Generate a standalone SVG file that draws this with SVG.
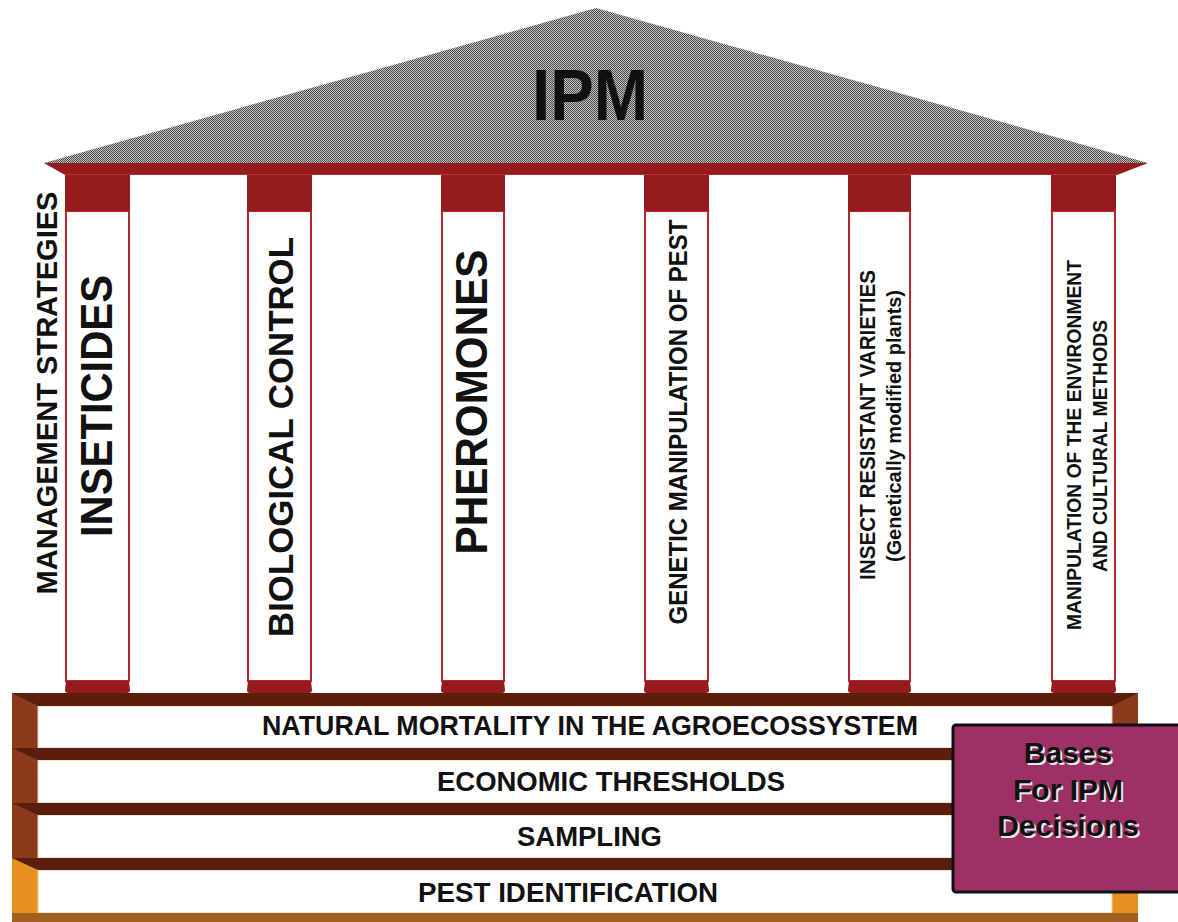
<svg xmlns="http://www.w3.org/2000/svg" width="1178" height="922" viewBox="0 0 1178 922">
<style>
text{font-family:"Liberation Sans",Arial,Helvetica,sans-serif;font-weight:bold;fill:#111}
.cap{fill:#961b1e}
.shaft{fill:#fff;stroke:#b8262b;stroke-width:2}
.beam{fill:#5b1e0c}
.face{fill:#8b3a1c}
.faceo{fill:#e5901f}
.row{fill:#fff;stroke:#e8cda8;stroke-width:1}
.shadow{fill:#e8e8e8}
</style>
<defs>
<pattern id="roofpat" width="2" height="2" patternUnits="userSpaceOnUse">
<rect width="2" height="2" fill="#c6c6c6"/>
<rect width="1" height="1" fill="#474747"/>
<rect x="1" y="1" width="1" height="1" fill="#474747"/>
</pattern>
</defs>
<rect width="1178" height="922" fill="#fff"/>

<g id="roof">
<polygon points="44,163 596,8 1148,163" fill="url(#roofpat)"/>
<text x="590" y="120" font-size="72" text-anchor="middle" textLength="116" lengthAdjust="spacingAndGlyphs">IPM</text>
</g>

<g id="entablature">
<polygon points="44,163 1148,163 1117,175 65,175" class="cap"/>
</g>

<g id="col-insecticides">
<rect x="66" y="211" width="63" height="470" class="shaft"/>
<rect x="65" y="174" width="65" height="37" class="cap"/>
<path d="M66,681 L129,681 L130,690 Q130,693 127,693 L68,693 Q65,693 65,690 Z" class="cap"/>
<text transform="translate(112,406) rotate(-90)" font-size="45" text-anchor="middle" textLength="262" lengthAdjust="spacingAndGlyphs">INSETICIDES</text>
</g>

<g id="col-biological">
<rect x="248" y="211" width="63" height="470" class="shaft"/>
<rect x="247" y="174" width="65" height="37" class="cap"/>
<path d="M248,681 L311,681 L312,690 Q312,693 309,693 L250,693 Q247,693 247,690 Z" class="cap"/>
<text transform="translate(293,437) rotate(-90)" font-size="35" text-anchor="middle" textLength="400" lengthAdjust="spacingAndGlyphs">BIOLOGICAL CONTROL</text>
</g>

<g id="col-pheromones">
<rect x="442" y="211" width="62" height="470" class="shaft"/>
<rect x="441" y="174" width="64" height="37" class="cap"/>
<path d="M442,681 L504,681 L505,690 Q505,693 502,693 L444,693 Q441,693 441,690 Z" class="cap"/>
<text transform="translate(487,402) rotate(-90)" font-size="45" text-anchor="middle" textLength="305" lengthAdjust="spacingAndGlyphs">PHEROMONES</text>
</g>

<g id="col-genetic">
<rect x="645" y="211" width="63" height="470" class="shaft"/>
<rect x="644" y="174" width="65" height="37" class="cap"/>
<path d="M645,681 L708,681 L709,690 Q709,693 706,693 L647,693 Q644,693 644,690 Z" class="cap"/>
<text transform="translate(687,422) rotate(-90)" font-size="26" text-anchor="middle" textLength="405" lengthAdjust="spacingAndGlyphs">GENETIC MANIPULATION OF PEST</text>
</g>

<g id="col-resistant">
<rect x="849" y="211" width="61" height="470" class="shaft"/>
<rect x="848" y="174" width="63" height="37" class="cap"/>
<path d="M849,681 L910,681 L911,690 Q911,693 908,693 L851,693 Q848,693 848,690 Z" class="cap"/>
<text transform="translate(875,425) rotate(-90)" font-size="22" text-anchor="middle" textLength="310" lengthAdjust="spacingAndGlyphs">INSECT RESISTANT VARIETIES</text>
<text transform="translate(901,426) rotate(-90)" font-size="20" text-anchor="middle" textLength="272" lengthAdjust="spacingAndGlyphs">(Genetically modified plants)</text>
</g>

<g id="col-environment">
<rect x="1052" y="211" width="63" height="470" class="shaft"/>
<rect x="1051" y="174" width="65" height="37" class="cap"/>
<path d="M1052,681 L1115,681 L1116,690 Q1116,693 1113,693 L1054,693 Q1051,693 1051,690 Z" class="cap"/>
<text transform="translate(1081,445) rotate(-90)" font-size="21" text-anchor="middle" textLength="370" lengthAdjust="spacingAndGlyphs">MANIPULATION OF THE ENVIRONMENT</text>
<text transform="translate(1107,446) rotate(-90)" font-size="21" text-anchor="middle" textLength="252" lengthAdjust="spacingAndGlyphs">AND CULTURAL METHODS</text>
</g>

<line x1="65" y1="174.5" x2="1117" y2="174.5" stroke="#b83232" stroke-width="1"/>

<g id="label-strategies">
<text transform="translate(57,393) rotate(-90)" font-size="30" text-anchor="middle" textLength="403" lengthAdjust="spacingAndGlyphs">MANAGEMENT STRATEGIES</text>
</g>

<g id="base">
<rect x="12" y="693" width="26" height="165" class="face"/>
<rect x="12" y="858" width="26" height="56" class="faceo"/>
<rect x="1112" y="693" width="26" height="165" class="face"/>
<rect x="1112" y="858" width="26" height="56" class="faceo"/>
<rect x="38" y="706" width="1074" height="42" class="row"/>
<rect x="38" y="760" width="1074" height="43" class="row"/>
<rect x="38" y="815" width="1074" height="43" class="row"/>
<rect x="38" y="870" width="1074" height="43" class="row"/>
<polygon points="12,693 1138,693 1112,706 38,706" class="beam"/>
<polygon points="12,748 1138,748 1112,760 38,760" class="beam"/>
<polygon points="12,803 1138,803 1112,815 38,815" class="beam"/>
<polygon points="12,858 1138,858 1112,870 38,870" class="beam"/>
<polygon points="12,913 1138,913 1138,922 12,922" fill="#a0601f"/>
</g>

<g id="row-natural">
<text x="590" y="735" font-size="28" text-anchor="middle" textLength="656" lengthAdjust="spacingAndGlyphs">NATURAL MORTALITY IN THE AGROECOSSYSTEM</text>
</g>
<g id="row-economic">
<text x="611" y="791" font-size="28" text-anchor="middle" textLength="348" lengthAdjust="spacingAndGlyphs">ECONOMIC THRESHOLDS</text>
</g>
<g id="row-sampling">
<text x="589.5" y="846" font-size="27" text-anchor="middle" textLength="145" lengthAdjust="spacingAndGlyphs">SAMPLING</text>
</g>
<g id="row-pest">
<text x="568" y="902" font-size="27" text-anchor="middle" textLength="300" lengthAdjust="spacingAndGlyphs">PEST IDENTIFICATION</text>
</g>

<g id="bases-box">
<rect x="953" y="725" width="240" height="167" rx="3" fill="#9d3166" stroke="#111" stroke-width="3"/>
<g font-size="30" text-anchor="middle">
<text class="shadow" x="1070" y="765">Bases</text>
<text class="shadow" x="1070" y="802">For IPM</text>
<text class="shadow" x="1070" y="838">Decisions</text>
<text x="1068" y="763">Bases</text>
<text x="1068" y="800">For IPM</text>
<text x="1068" y="836">Decisions</text>
</g>
</g>

<g id="connectors"/>
</svg>
